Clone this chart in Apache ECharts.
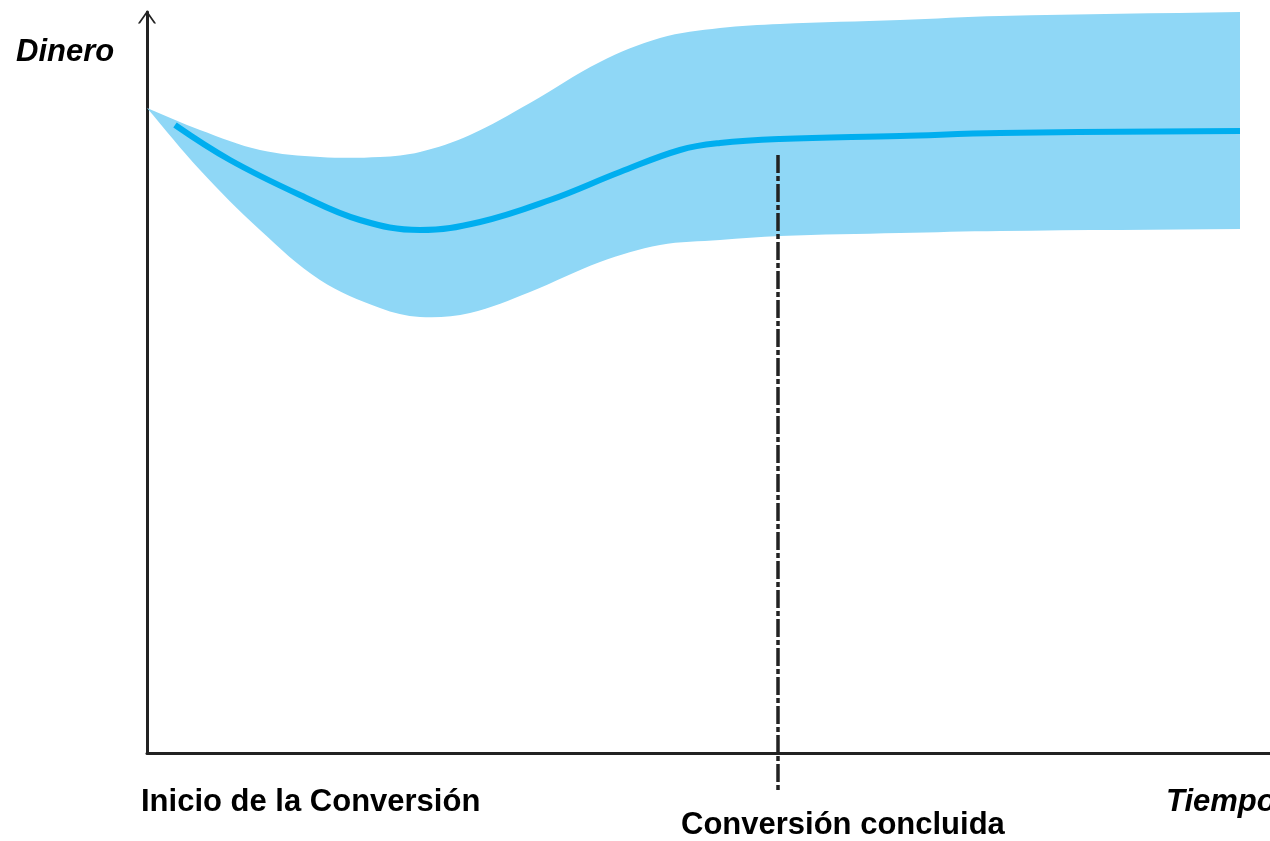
<!DOCTYPE html>
<html>
<head>
<meta charset="utf-8">
<script src="https://cdn.jsdelivr.net/npm/echarts@6/dist/echarts.min.js"></script>
<style>
html, body { margin: 0; padding: 0; background: #fff; }
#chartMain { width: 1270px; height: 841px; }
</style>
</head>
<body>
<div id="chartMain"></div>
<script>
// time axis (arbitrary units), money axis (arbitrary units)
var bandX = [0, 53, 113, 173, 233, 273, 323, 383, 453, 513, 573, 633, 753, 853, 1093];
var bandUpper = [645, 623, 603, 596, 596, 601, 618, 650, 691, 715, 725, 729, 733, 737, 741];
var bandLower = [645, 583, 523, 473, 445, 436, 440, 461, 491, 508, 513, 517, 520, 522, 524];

var lineX = [28, 83, 153, 213, 273, 333, 403, 473, 533, 573, 633, 753, 853, 1093];
var lineY = [628, 593, 558, 533, 523, 531, 553, 581, 603, 610, 614, 617, 620, 622];

var finishX = 631;
var finishTop = 598;
var finishBottom = -38;

var myChart = echarts.init(document.getElementById('chartMain'));

var midData = [];
for (var j = 0; j < lineX.length; j++) {
    midData.push([lineX[j], lineY[j]]);
}

var option = {
    backgroundColor: '#fff',
    animation: false,
    grid: { left: 147, top: 12, right: 0, bottom: 88, containLabel: false },
    xAxis: {
        type: 'value',
        min: 0,
        max: 1123,
        axisLine: {
            show: true,
            symbol: ['none', 'none'],
            lineStyle: { color: '#222', width: 3 }
        },
        axisTick: { show: false },
        axisLabel: { show: false },
        splitLine: { show: false }
    },
    yAxis: {
        type: 'value',
        min: 0,
        max: 741,
        axisLine: {
            show: true,
            symbol: ['none', 'path://M0,10 L7,0 L14,10 L12.4,10 L7,2.4 L1.6,10 Z'],
            symbolSize: [22, 13],
            symbolOffset: [0, -5],
            lineStyle: { color: '#222', width: 3 }
        },
        axisTick: { show: false },
        axisLabel: { show: false },
        splitLine: { show: false }
    },
    series: [
        {
            // banda de incertidumbre
            name: 'banda',
            type: 'custom',
            data: [0],
            z: 1,
            renderItem: function (params, api) {
                var up = [], low = [];
                for (var i = 0; i < bandX.length; i++) {
                    up.push(api.coord([bandX[i], bandUpper[i]]));
                    low.push(api.coord([bandX[i], bandLower[i]]));
                }
                // repeated end points keep the right edge straight and the apex sharp
                var pts = up.concat([up[up.length - 1]], [low[low.length - 1]], low.slice().reverse());
                return {
                    type: 'polygon',
                    shape: { points: pts, smooth: 0.35 },
                    style: { fill: '#8fd7f6', stroke: null }
                };
            }
        },
        {
            name: 'dinero',
            type: 'line',
            smooth: 0.4,
            symbol: 'none',
            lineStyle: { color: '#00aeef', width: 6 },
            data: midData,
            z: 3
        },
        {
            // conversión concluida
            name: 'fin',
            type: 'custom',
            data: [0],
            z: 4,
            clip: false,
            renderItem: function (params, api) {
                var p1 = api.coord([finishX, finishTop]);
                var p2 = api.coord([finishX, finishBottom]);
                return {
                    type: 'line',
                    shape: { x1: p1[0], y1: p1[1], x2: p2[0], y2: p2[1] },
                    style: { stroke: '#222', lineWidth: 3.5, lineDash: [18, 3, 5, 3] }
                };
            }
        }
    ],
    graphic: [
        {
            type: 'text', left: 16, top: 37,
            style: { text: 'Dinero', font: 'italic bold 31px "Liberation Sans", Arial, sans-serif', fill: '#000' }
        },
        {
            type: 'text', left: 141, top: 787,
            style: { text: 'Inicio de la Conversión', font: 'bold 31px "Liberation Sans", Arial, sans-serif', fill: '#000' }
        },
        {
            type: 'text', left: 681, top: 810,
            style: { text: 'Conversión concluida', font: 'bold 31px "Liberation Sans", Arial, sans-serif', fill: '#000' }
        },
        {
            type: 'text', left: 1166, top: 787,
            style: { text: 'Tiempo', font: 'italic bold 31px "Liberation Sans", Arial, sans-serif', fill: '#000' }
        }
    ]
};

myChart.setOption(option);
</script>
</body>
</html>
